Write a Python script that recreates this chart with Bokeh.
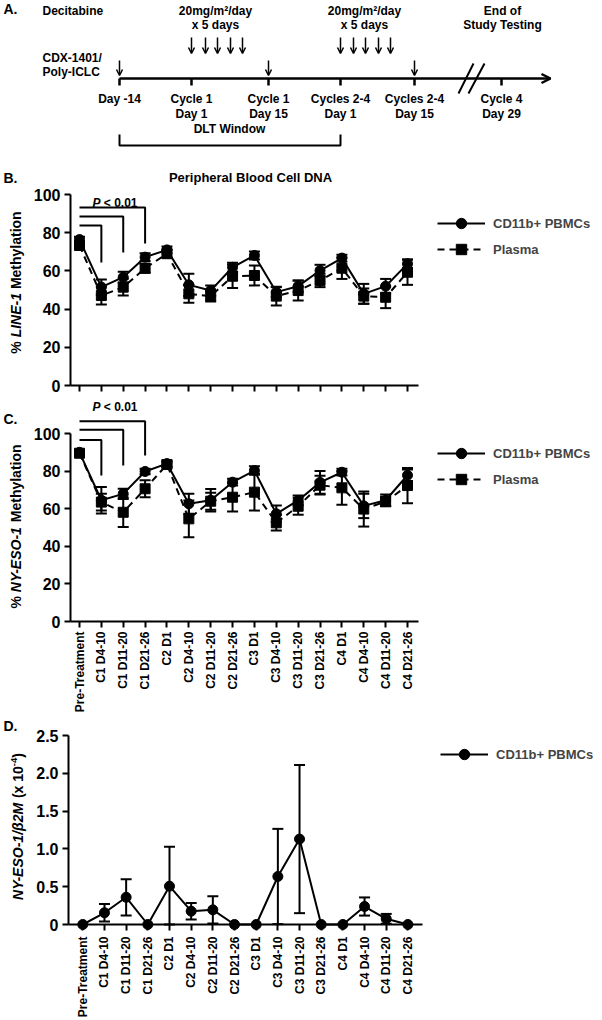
import math
from bokeh.plotting import figure
from bokeh.layouts import column
from bokeh.models import (Range1d, FixedTicker, CustomJSTickFormatter, Whisker, TeeHead,
                          ColumnDataSource, Label, Legend, LegendItem, Arrow, OpenHead,
                          LinearAxis)
from bokeh.core.properties import value
from bokeh.embed import file_html
from bokeh.resources import INLINE

FONT = "Liberation Sans"
PAGE_W = 602

# ---------------- data ----------------
categories = ["Pre-Treatment", "C1 D4-10", "C1 D11-20", "C1 D21-26", "C2 D1", "C2 D4-10",
              "C2 D11-20", "C2 D21-26", "C3 D1", "C3 D4-10", "C3 D11-20", "C3 D21-26",
              "C4 D1", "C4 D4-10", "C4 D11-20", "C4 D21-26"]

line1_pbmc = [76.4, 51.5, 56.7, 67.2, 71.0, 52.7, 49.7, 61.9, 68.1, 48.9, 52.0, 60.2, 66.7, 48.0, 52.0, 63.7]
line1_pbmc_sem = [1.5, 4.0, 2.8, 2.0, 1.8, 5.8, 2.7, 2.4, 2.1, 2.6, 3.0, 3.0, 1.8, 5.2, 3.8, 2.3]
line1_plasma = [73.3, 47.1, 51.5, 61.4, 69.0, 48.0, 46.8, 57.2, 57.6, 46.8, 49.7, 55.0, 61.4, 46.8, 46.2, 59.3]
line1_plasma_sem = [1.5, 4.7, 4.4, 2.4, 2.1, 4.7, 2.8, 6.2, 5.2, 4.9, 5.2, 3.5, 5.6, 4.0, 5.7, 6.6]

nyeso_pbmc = [90.0, 64.5, 67.9, 79.8, 84.0, 62.6, 64.5, 74.1, 80.3, 57.3, 64.4, 74.0, 79.4, 61.5, 64.5, 77.8]
nyeso_pbmc_sem = [1.0, 7.0, 2.7, 1.5, 1.5, 5.3, 6.0, 1.8, 2.3, 4.4, 2.6, 6.0, 1.8, 6.5, 3.0, 3.0]
nyeso_plasma = [89.5, 63.5, 58.1, 70.6, 83.5, 54.6, 64.0, 66.1, 68.8, 52.5, 61.3, 72.5, 71.1, 59.8, 63.8, 72.3]
nyeso_plasma_sem = [1.0, 4.5, 7.9, 4.5, 1.5, 9.8, 4.5, 7.6, 9.8, 4.1, 4.5, 5.0, 9.0, 9.3, 2.5, 9.4]

nyeso_expr = [0, 0.155, 0.36, 0, 0.507, 0.176, 0.194, 0, 0, 0.635, 1.13, 0, 0, 0.238, 0.075, 0]
nyeso_expr_sem = [0, 0.115, 0.24, 0, 0.523, 0.11, 0.18, 0, 0, 0.63, 0.98, 0, 0, 0.12, 0.065, 0]

# significance brackets (from Pre-Treatment to category index)
bracket_end = [1, 2, 3]
b_bracket_top = [83.8, 88.5, 93.2]
b_bracket_bottom = [64.4, 69.6, 74.3]
c_bracket_top = [96.6, 102.0, 106.5]
c_bracket_bottom = [77.7, 83.0, 88.3]

# schematic (panel A) positions on the schematic's own axis
timeline_labels = ["Day -14", "Cycle 1\nDay 1", "Cycle 1\nDay 15", "Cycles 2-4\nDay 1",
                   "Cycles 2-4\nDay 15", "Cycle 4\nDay 29"]
timeline_x = [119, 191, 268, 340, 414, 501]
decitabine_x = [191, 205, 217, 230, 242, 340, 353, 365, 378, 390]
vaccine_x = [119, 268, 414]

# ---------------- helpers ----------------
W_BOLD = {' ': 278, '%': 889, 'L': 611, 'I': 278, 'N': 722, 'E': 667, '-': 333, '1': 556,
          'M': 833, 'e': 556, 't': 333, 'h': 611, 'y': 556, 'l': 278, 'a': 556, 'i': 278,
          'o': 611, 'n': 611, 'Y': 667, 'S': 667, 'O': 778, '/': 278, 'β': 611, '2': 556,
          '(': 333, 'x': 556, '0': 556, '4': 556, ')': 333, 'P': 667, '<': 584, '.': 278}


def text_w(s, size):
    return sum(W_BOLD.get(c, 600) for c in s) * size / 1000.0


class Geo:
    """Linear map between page pixels and a panel's data coordinates."""
    def __init__(self, top, height, xa, xb, ya, yb):
        self.top, self.height = top, height
        self.kx = (xb[1] - xa[1]) / (xb[0] - xa[0])
        self.x0 = xa[1] - self.kx * xa[0]
        self.ky = (yb[1] - ya[1]) / (yb[0] - ya[0])
        self.y0 = ya[1] - self.ky * ya[0]

    def x(self, px):
        return self.x0 + self.kx * px

    def y(self, py):
        return self.y0 + self.ky * py

    def fig(self):
        p = figure(width=PAGE_W, height=self.height,
                   x_range=Range1d(self.x(0), self.x(PAGE_W)),
                   y_range=Range1d(self.y(self.top + self.height), self.y(self.top)),
                   output_backend="svg", toolbar_location=None, min_border=0,
                   x_axis_location=None, y_axis_location=None)
        p.grid.visible = False
        p.outline_line_color = None
        p.background_fill_color = "white"
        return p


def lab(p, g, px, py, text, size, style="bold", align="left", angle=0.0, baseline="middle"):
    p.add_layout(Label(x=g.x(px), y=g.y(py), text=text, text_font=FONT,
                       text_font_size=f"{size}px", text_font_style=style, text_align=align,
                       text_baseline=baseline, angle=angle, text_color="black"))


def hlabel(p, g, px, py, pieces, size):
    """Horizontal run of differently styled pieces (spaces advance the pen)."""
    x = px
    for t, st in pieces:
        core = t.strip(" ")
        lead = len(t) - len(t.lstrip(" "))
        x += text_w(" " * lead, size)
        lab(p, g, x, py, core, size, style=st)
        x += text_w(t[lead:], size)


def vlabel(p, g, px, center_py, pieces, size):
    """Vertical (bottom-to-top) run of differently styled pieces."""
    total = sum(text_w(t, s if s else size) for t, st, s, dx in pieces)
    y = center_py + total / 2.0
    for t, st, s, dx in pieces:
        fs = s if s else size
        lead = len(t) - len(t.lstrip(" "))
        y -= text_w(" " * lead, fs)
        lab(p, g, px + dx, y, t.strip(" "), fs, style=st, angle=math.pi / 2)
        y -= text_w(t[lead:], fs)


def add_axes(p, g, axis_left_px, axis_right_px, ticks_y, y_top, xlabels, standoff=6):
    xl, xr = g.x(axis_left_px), g.x(axis_right_px)
    yax = LinearAxis(fixed_location=xl, bounds=(0, y_top), ticker=FixedTicker(ticks=ticks_y))
    xax = LinearAxis(fixed_location=0, bounds=(xl, xr),
                     ticker=FixedTicker(ticks=list(range(len(categories)))))
    for ax in (xax, yax):
        ax.axis_line_width = 2
        ax.major_tick_line_width = 2
        ax.major_tick_out = 6
        ax.major_tick_in = 0
        ax.minor_tick_line_color = None
        ax.major_label_text_font = FONT
        ax.major_label_text_font_style = "bold"
        ax.axis_line_color = "black"
        ax.major_tick_line_color = "black"
        ax.major_label_text_color = "black"
    yax.major_label_text_font_size = "16px"
    yax.major_label_standoff = 4
    if xlabels:
        xax.formatter = CustomJSTickFormatter(args=dict(labels=categories),
                                              code="return labels[Math.round(tick)];")
        xax.major_label_orientation = math.pi / 2
        xax.major_label_text_font_size = "12px"
        xax.major_label_standoff = standoff
    else:
        xax.formatter = CustomJSTickFormatter(code="return '';")
    p.add_layout(yax, "left")
    p.add_layout(xax, "below")
    return yax, xax


def legend(p, g, items, left_px, top_px):
    h = 26 * len(items)
    lg = Legend(items=items, location=(left_px, g.top + g.height - (top_px + h)),
                glyph_width=48, glyph_height=26, label_height=26,
                label_standoff=8, spacing=0, padding=0, margin=0, border_line_color=None,
                background_fill_alpha=0, label_text_font=FONT, label_text_font_style="bold",
                label_text_font_size="13px")
    p.add_layout(lg, "center")


def series(p, x, mean, sem, marker, dash):
    up = [m + s for m, s in zip(mean, sem)]
    lo = [max(m - s, 0) for m, s in zip(mean, sem)]
    keep = [i for i, s in enumerate(sem) if s > 0]
    src = ColumnDataSource(dict(x=[x[i] for i in keep], upper=[up[i] for i in keep],
                                lower=[lo[i] for i in keep]))
    p.add_layout(Whisker(source=src, base="x", upper="upper", lower="lower", line_width=2,
                         line_color="black",
                         upper_head=TeeHead(size=11, line_width=2, line_color="black"),
                         lower_head=TeeHead(size=11, line_width=2, line_color="black")))
    ln = p.line(x, mean, line_width=2, color="black", line_dash=dash)
    sc = p.scatter(x, mean, marker=marker, size=10, color="black")
    return [ln, sc]


xs = list(range(len(categories)))

# ---------------- Panel A (schematic) ----------------
ga = Geo(0, 150, (0, 0), (602, 602), (0, 0), (150, 150))
pa = ga.fig()
tfont = value(FONT)
pa.text(x=[3], y=[8], text=["A."], text_font=tfont, text_font_size="14px",
        text_font_style="bold", text_baseline="middle", text_align="left")
pa.text(x=[42, 42, 42], y=[10, 57, 71], text=["Decitabine", "CDX-1401/", "Poly-ICLC"],
        text_font=tfont, text_font_size="12px", text_font_style="bold",
        text_baseline="middle", text_align="left")
pa.text(x=[215, 215, 364, 364, 502, 502], y=[10, 24, 10, 24, 10, 24],
        text=["20mg/m²/day", "x 5 days", "20mg/m²/day", "x 5 days", "End of", "Study Testing"],
        text_font=tfont, text_font_size="12px", text_font_style="bold",
        text_baseline="middle", text_align="center")
pa.text(x=timeline_x, y=[91] * len(timeline_x), text=timeline_labels, text_font=tfont,
        text_font_size="12px", text_font_style="bold", text_baseline="top",
        text_align="center", text_line_height=1.1)
pa.text(x=[229], y=[128], text=["DLT Window"], text_font=tfont, text_font_size="12px",
        text_font_style="bold", text_baseline="middle", text_align="center")

pa.add_layout(Arrow(x_start=timeline_x[0], y_start=78, x_end=550, y_end=78, line_width=2.5,
                    end=OpenHead(size=9, line_width=2.5)))
pa.segment(x0=timeline_x, y0=[78] * 6, x1=timeline_x, y1=[85] * 6, line_width=2.5, color="black")
for xx in decitabine_x:
    pa.add_layout(Arrow(x_start=xx, y_start=37, x_end=xx, y_end=53, line_width=1.5,
                        end=OpenHead(size=6, line_width=1.5)))
for xx in vaccine_x:
    pa.add_layout(Arrow(x_start=xx, y_start=60, x_end=xx, y_end=75, line_width=1.5,
                        end=OpenHead(size=6, line_width=1.5)))
pa.segment(x0=[458, 468], y0=[93, 93], x1=[473, 484], y1=[63, 63], line_width=2, color="black")
pa.multi_line(xs=[[timeline_x[0], timeline_x[0], timeline_x[3], timeline_x[3]]],
              ys=[[134, 145, 145, 134]], line_width=2, color="black")

# ---------------- Panel B ----------------
gb = Geo(150, 245, (79, 0), (407, 15), (385, 0), (194, 100))
pb = gb.fig()
add_axes(pb, gb, 70, 418, [0, 20, 40, 60, 80, 100], 100, False)
rb1 = series(pb, xs, line1_pbmc, line1_pbmc_sem, "circle", "solid")
rb2 = series(pb, xs, line1_plasma, line1_plasma_sem, "square", "7 5")
pb.multi_line(xs=[[0, e, e] for e in bracket_end],
              ys=[[t, t, b] for t, b in zip(b_bracket_top, b_bracket_bottom)],
              line_width=2, color="black")
legend(pb, gb, [LegendItem(label="CD11b+ PBMCs", renderers=rb1),
                LegendItem(label="Plasma", renderers=rb2)], 437, 210)
lab(pb, gb, 3, 177, "B.", 14)
lab(pb, gb, 250, 177, "Peripheral Blood Cell DNA", 13, align="center")
hlabel(pb, gb, 92, 202, [("P", "bold italic"), (" < 0.01", "bold")], 12)
vlabel(pb, gb, 15, 282, [("%", "bold", None, 0), (" LINE-1", "bold italic", None, 0),
                         (" Methylation", "bold", None, 0)], 14)

# ---------------- Panel C ----------------
gc = Geo(395, 320, (79, 0), (407, 15), (621, 0), (433, 100))
pc = gc.fig()
add_axes(pc, gc, 70, 418, [0, 20, 40, 60, 80, 100], 100, True, standoff=4)
rc1 = series(pc, xs, nyeso_pbmc, nyeso_pbmc_sem, "circle", "solid")
rc2 = series(pc, xs, nyeso_plasma, nyeso_plasma_sem, "square", "7 5")
pc.multi_line(xs=[[0, e, e] for e in bracket_end],
              ys=[[t, t, b] for t, b in zip(c_bracket_top, c_bracket_bottom)],
              line_width=2, color="black")
legend(pc, gc, [LegendItem(label="CD11b+ PBMCs", renderers=rc1),
                LegendItem(label="Plasma", renderers=rc2)], 437, 440)
lab(pc, gc, 3, 418, "C.", 14)
hlabel(pc, gc, 92, 406, [("P", "bold italic"), (" < 0.01", "bold")], 12)
vlabel(pc, gc, 15, 526, [("%", "bold", None, 0), (" NY-ESO-1", "bold italic", None, 0),
                         (" Methylation", "bold", None, 0)], 14)

# ---------------- Panel D ----------------
gd = Geo(715, 305, (82.3, 0), (407.4, 15), (924, 0), (735, 2.5))
pd_ = gd.fig()
yax_d, xax_d = add_axes(pd_, gd, 68, 422, [0, 0.5, 1.0, 1.5, 2.0, 2.5], 2.5, True)
yax_d.formatter = CustomJSTickFormatter(code="return tick === 0 ? '0' : tick.toFixed(1);")
rd1 = series(pd_, xs, nyeso_expr, nyeso_expr_sem, "circle", "solid")
legend(pd_, gd, [LegendItem(label="CD11b+ PBMCs", renderers=rd1)], 440, 741)
lab(pd_, gd, 3, 725, "D.", 14)
vlabel(pd_, gd, 17, 826, [("NY-ESO-1/β2M", "bold italic", None, 0),
                          (" (x 10", "bold", None, 0), ("-4", "bold", 9.5, -4),
                          (")", "bold", None, 0)], 14)

layout = column(pa, pb, pc, pd_, spacing=0)
open("out.html", "w").write(file_html(layout, INLINE))
